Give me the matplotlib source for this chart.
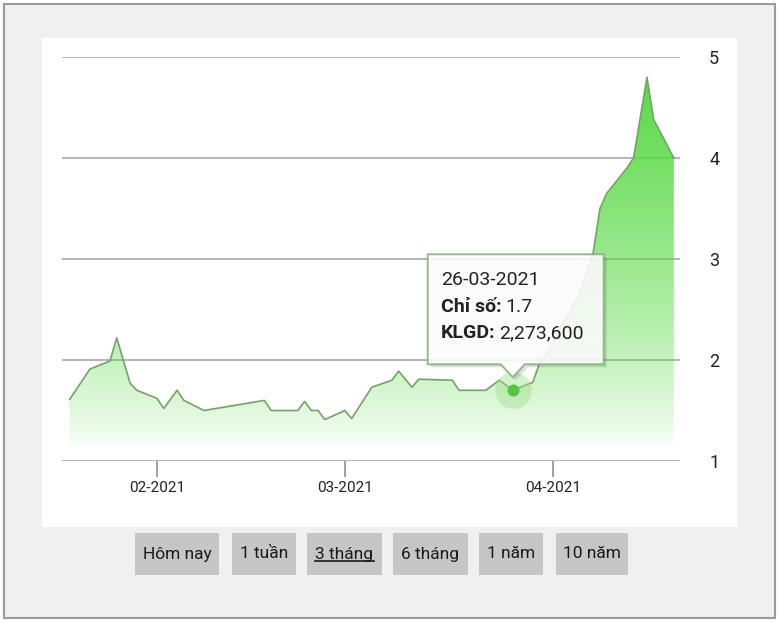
import matplotlib
matplotlib.use("Agg")
import matplotlib.pyplot as plt
import matplotlib.dates as mdates
import matplotlib.patches as mpatches
import numpy as np
from datetime import datetime

# ---- data ----
dates = ["2021-01-19", "2021-01-22", "2021-01-25", "2021-01-26", "2021-01-28", "2021-01-29",
         "2021-02-01", "2021-02-02", "2021-02-04", "2021-02-05", "2021-02-08", "2021-02-17",
         "2021-02-18", "2021-02-22", "2021-02-23", "2021-02-24", "2021-02-25", "2021-02-26",
         "2021-03-01", "2021-03-02", "2021-03-05", "2021-03-08", "2021-03-09", "2021-03-11",
         "2021-03-12", "2021-03-17", "2021-03-18", "2021-03-22", "2021-03-24", "2021-03-26",
         "2021-03-29", "2021-03-30", "2021-03-31", "2021-04-01", "2021-04-02", "2021-04-05",
         "2021-04-06", "2021-04-07", "2021-04-08", "2021-04-09", "2021-04-12", "2021-04-13",
         "2021-04-14", "2021-04-15", "2021-04-16", "2021-04-19"]
values = [1.61, 1.91, 1.99, 2.22, 1.77, 1.70,
          1.62, 1.52, 1.70, 1.60, 1.50, 1.60,
          1.50, 1.50, 1.59, 1.50, 1.50, 1.41,
          1.50, 1.42, 1.73, 1.80, 1.89, 1.73,
          1.81, 1.80, 1.70, 1.70, 1.80, 1.70,
          1.78, 1.97, 2.05, 2.15, 2.30, 2.65,
          2.85, 3.07, 3.50, 3.65, 3.90, 4.00,
          4.40, 4.80, 4.38, 4.00]
y_ticks = [1, 2, 3, 4, 5]
x_tick_dates = ["2021-02-01", "2021-03-01", "2021-04-01"]
x_tick_labels = ["02-2021", "03-2021", "04-2021"]
tooltip_date = "2021-03-26"
tooltip_value = 1.7
tooltip_lines = ["26-03-2021", "Chỉ số: 1.7", "KLGD: 2,273,600"]
buttons = ["Hôm nay", "1 tuần", "3 tháng", "6 tháng", "1 năm", "10 năm"]
active_button = "3 tháng"

FONT = ["Liberation Sans Narrow", "Roboto", "DejaVu Sans"]
plt.rcParams["font.family"] = FONT

W, H = 780, 623
fig = plt.figure(figsize=(W / 100, H / 100), dpi=100)
fig.patch.set_facecolor("white")

def fr(x0, y0, x1, y1):
    """pixel box (top-left origin) -> figure fraction rect"""
    return (x0 / W, 1 - y1 / H, (x1 - x0) / W, (y1 - y0) / H)

# outer frame and panel
bx = fr(4, 4, 775, 618)
fig.patches.append(mpatches.Rectangle((bx[0], bx[1]), bx[2], bx[3], transform=fig.transFigure,
                                      facecolor="#f0f0f0", edgecolor="#9a9a9a", lw=1.5, zorder=0))
px = fr(42, 38, 737, 527)
fig.patches.append(mpatches.Rectangle((px[0], px[1]), px[2], px[3], transform=fig.transFigure,
                                      facecolor="white", edgecolor="none", zorder=0.5))

# axes
ax = fig.add_axes(fr(62, 57, 680, 461))
ax.set_zorder(2)
ax.set_facecolor("none")
xd = mdates.date2num([datetime.strptime(d, "%Y-%m-%d") for d in dates])
feb1 = mdates.date2num(datetime(2021, 2, 1))
XL = (feb1 - 14.15, feb1 + 77.92)

for s in ax.spines.values():
    s.set_visible(False)
for yv in y_ticks:
    ax.axhline(yv, color="#a8a8a8", lw=1.2, zorder=1)

# gradient fill
poly = ax.fill_between(xd, values, 1, color="none", lw=0)
n = 256
yy = np.linspace(0, 1, n)
alpha = np.clip((yy - 0.03) / 0.92, 0, 1) ** 0.75
img = np.zeros((n, 1, 4))
img[:, 0, 0] = 0.33
img[:, 0, 1] = 0.85
img[:, 0, 2] = 0.25
img[:, 0, 3] = alpha * 0.97
im = ax.imshow(img, extent=[XL[0], XL[1], 1, 5], origin="lower",
               aspect="auto", zorder=2, interpolation="bilinear")
im.set_clip_path(poly.get_paths()[0], transform=ax.transData)
ax.set_xlim(*XL)
ax.set_ylim(1, 5)

ax.plot(xd, values, color="#789f6e", lw=1.2, zorder=3)

# ticks
ax.set_xticks(mdates.date2num([datetime.strptime(d, "%Y-%m-%d") for d in x_tick_dates]))
ax.set_xticklabels(x_tick_labels)
ax.tick_params(axis="x", length=11.5, width=1.2, color="#909090", pad=3,
               labelsize=11, labelcolor="#222222")
ax.set_yticks(y_ticks)
ax.set_yticklabels([str(v) for v in y_ticks])
ax.tick_params(axis="y", left=False, labelleft=False, right=False, labelright=True,
               length=0, pad=21, labelsize=13, labelcolor="#222222")

# tooltip marker & box
fig.canvas.draw()
tx = mdates.date2num(datetime.strptime(tooltip_date, "%Y-%m-%d"))
ax.scatter([tx], [tooltip_value], s=700, color="#9fe08f", alpha=0.45, zorder=4, lw=0, clip_on=False)
ax.scatter([tx], [tooltip_value], s=75, color="#55c445", zorder=5, lw=0, clip_on=False)
pxp, pyp = ax.transData.transform((tx, tooltip_value))
L, R = pxp - 85, pxp + 91
T, B = pyp + 136, pyp + 26
tip = pyp + 13
verts = [(L, B), (pxp - 12, B), (pxp, tip), (pxp + 12, B), (R, B), (R, T), (L, T)]
shadow = mpatches.Polygon([(vx + 3, vy - 3) for vx, vy in verts], closed=True, transform=None,
                          facecolor="#000000", alpha=0.12, edgecolor="none", zorder=6)
box = mpatches.Polygon(verts, closed=True, transform=None, facecolor="white", alpha=0.88,
                       edgecolor="#86b07e", lw=1.4, zorder=7)
fig.patches.extend([shadow, box])
TFS = 14
tl = pxp - 72
fig.text(tl / W, (pyp + 110) / H, tooltip_lines[0], fontsize=TFS, color="#222222",
         va="center", ha="left", zorder=8)
for line, dy in zip(tooltip_lines[1:], (83, 57)):
    lab, val = line.split(": ")
    t = fig.text(tl / W, (pyp + dy) / H, lab + ":", fontsize=TFS, fontweight="bold",
                 color="#222222", va="center", ha="left", zorder=8)
    fig.canvas.draw()
    bb = t.get_window_extent()
    fig.text((bb.x1 + 4) / W, (pyp + dy) / H, val, fontsize=TFS, color="#222222",
             va="center", ha="left", zorder=8)

# buttons
btn_x = [(135, 219), (232, 296), (307, 382), (393, 468), (479, 543), (556, 628)]
for (x0, x1), name in zip(btn_x, buttons):
    r = fr(x0, 533, x1, 575)
    fig.patches.append(mpatches.Rectangle((r[0], r[1]), r[2], r[3], transform=fig.transFigure,
                                          facecolor="#c6c6c6", edgecolor="none", zorder=1))
    t = fig.text((x0 + x1) / 2 / W, 1 - 554 / H, name, fontsize=12.5, color="#1a1a1a",
                 ha="center", va="center", zorder=2)
    if name == active_button:
        fig.canvas.draw()
        b = t.get_window_extent()
        fig.lines.append(plt.Line2D([b.x0 / W, b.x1 / W], [(b.y0 + 1) / H, (b.y0 + 1) / H],
                                    transform=fig.transFigure, color="#1a1a1a", lw=1.2))

fig.savefig("out.png", dpi=100, facecolor="white")
